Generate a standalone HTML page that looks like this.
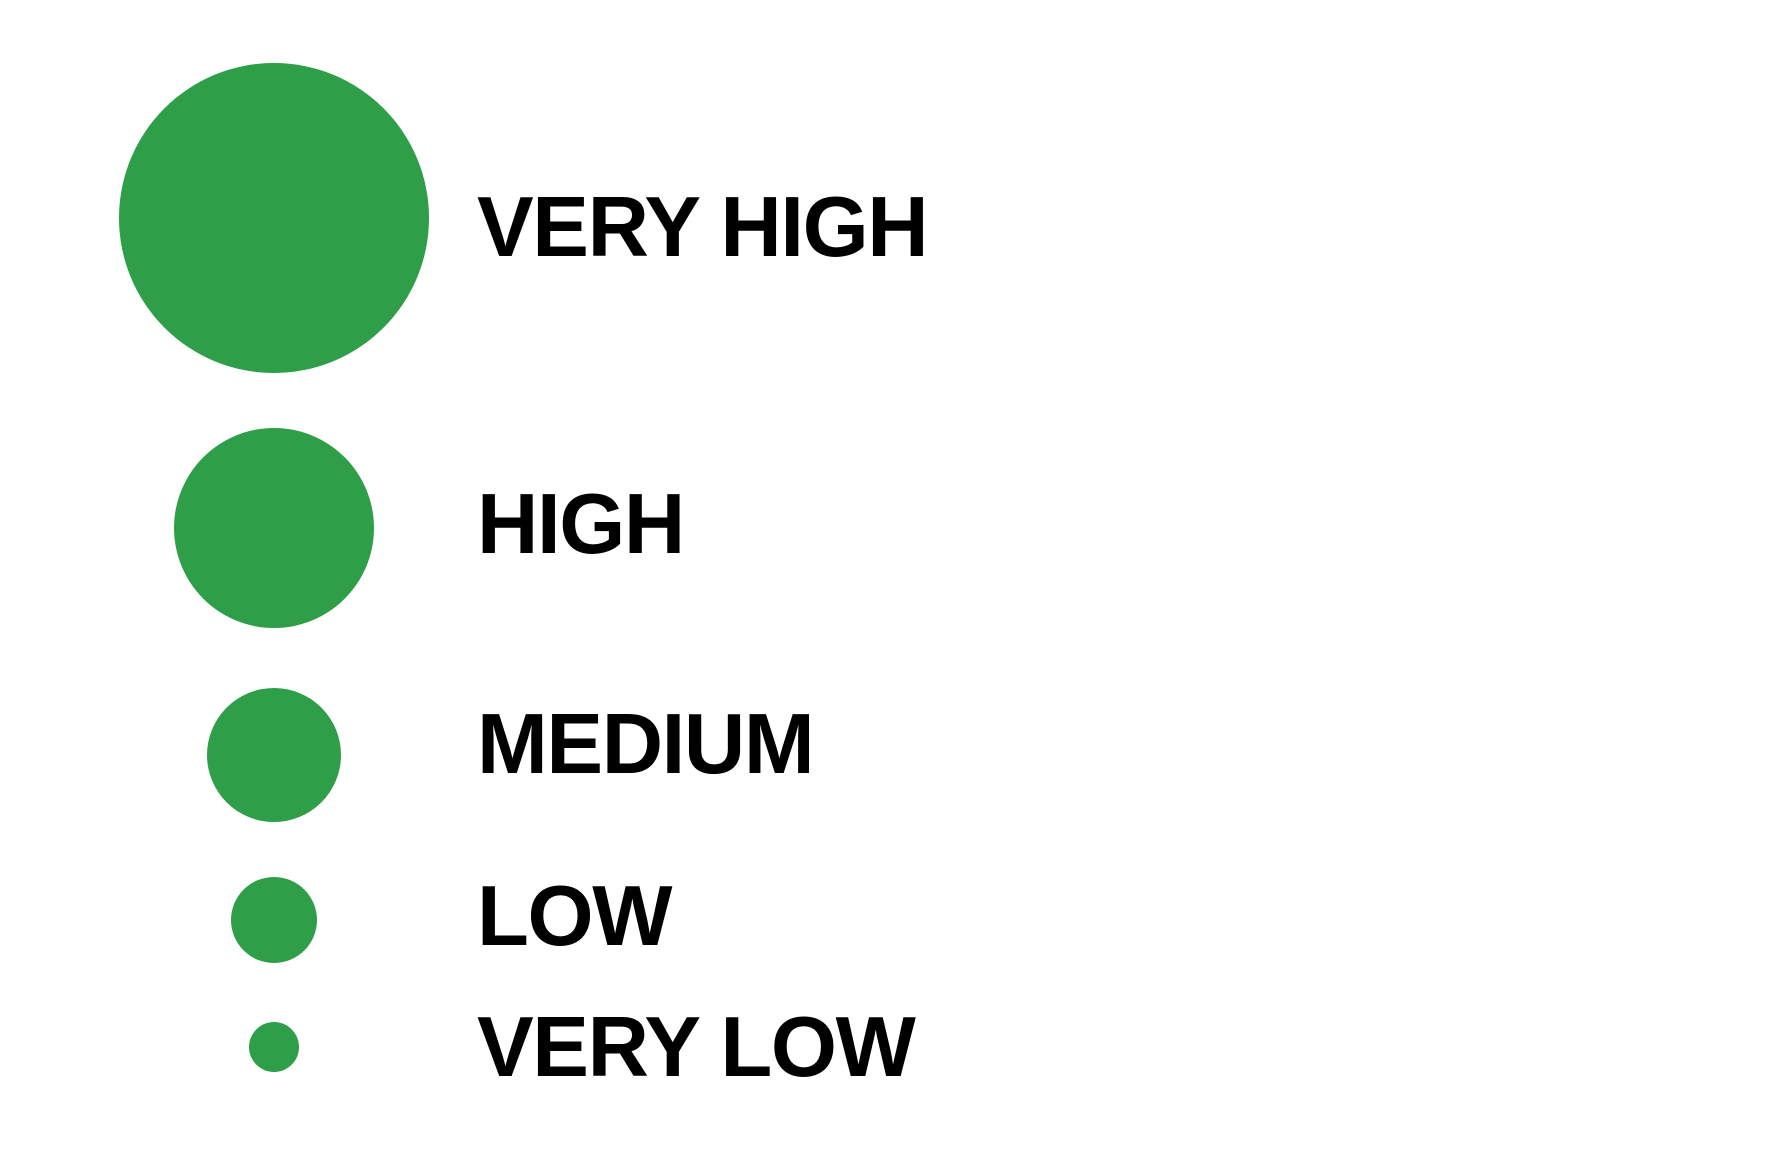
<!DOCTYPE html>
<html><head><meta charset="utf-8"><style>
html,body{margin:0;padding:0;background:#fff;width:1771px;height:1153px;overflow:hidden}
text{font-family:"Liberation Sans",Arial,sans-serif;font-weight:bold;font-size:85px;fill:#000;letter-spacing:-1.4px}
</style></head><body>
<svg id="chart" width="1771" height="1153" xmlns="http://www.w3.org/2000/svg"></svg>
<script>
const categories = ["VERY HIGH","HIGH","MEDIUM","LOW","VERY LOW"];
const radii = [155, 100, 67, 43, 25];
const centersY = [219, 529, 756, 921, 1048];
const labelBaselines = [256, 553, 773, 945, 1076];
const svg = document.getElementById('chart');
const NS = "http://www.w3.org/2000/svg";
const cx = 274, labelX = 477;
categories.forEach((c, i) => {
  const g = document.createElementNS(NS, 'g');
  
  
  const circ = document.createElementNS(NS, 'circle');
  circ.setAttribute('cx', cx);
  circ.setAttribute('cy', centersY[i] - 1);
  circ.setAttribute('r', radii[i]);
  circ.setAttribute('fill', '#2e9e48');
  
  
  const t = document.createElementNS(NS, 'text');
  t.setAttribute('x', labelX);
  t.setAttribute('y', labelBaselines[i]);
  t.textContent = c;
  
  
  g.appendChild(circ); g.appendChild(t);
  svg.appendChild(g);
});
</script>
</body></html>
